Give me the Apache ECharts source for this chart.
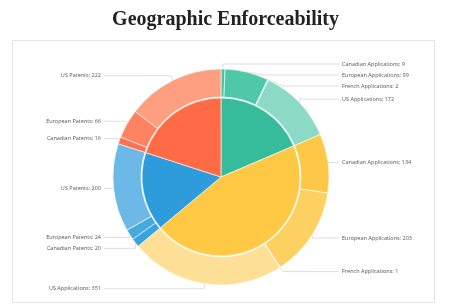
<!DOCTYPE html>
<html>
<head>
<meta charset="utf-8">
<script src="https://cdn.jsdelivr.net/npm/echarts@6/dist/echarts.min.js"></script>
<style>
html,body{margin:0;padding:0;background:#fff;}
#chart{width:451px;height:308px;}
</style>
</head>
<body>
<div id="chart"></div>
<script>
// Inner ring groups (no visible labels in the reference)
var groupNames = ['Applications A', 'Applications B', 'Patents A', 'Patents B'];
var groupColors = ['#37bc9b', '#ffc845', '#2e9bdb', '#ff6b45'];

// Outer ring, per group (clockwise from 12 o'clock)
var outerNamesA = ['Canadian Applications', 'European Applications', 'French Applications', 'US Applications'];
var outerValuesA = [9, 99, 2, 172];
var outerColorsA = ['#48c4a5', '#4fc7a9', '#74d3bc', '#8cd9c6'];

var outerNamesB = ['Canadian Applications', 'European Applications', 'French Applications', 'US Applications'];
var outerValuesB = [134, 203, 1, 351];
var outerColorsB = ['#fdc748', '#fdd062', '#fdd878', '#fedf96'];

var outerNamesC = ['Canadian Patents', 'European Patents', 'US Patents'];
var outerValuesC = [20, 24, 200];
var outerColorsC = ['#3aa3de', '#46aae1', '#6cb8e6'];

var outerNamesD = ['Canadian Patents', 'European Patents', 'US Patents'];
var outerValuesD = [16, 66, 222];
var outerColorsD = ['#fe7250', '#fe8362', '#fe9f81'];

function sum(a){ return a.reduce(function(s,v){return s+v;},0); }

var innerData = [outerValuesA, outerValuesB, outerValuesC, outerValuesD].map(function(vals, i){
  return {name: groupNames[i], value: sum(vals), itemStyle: {color: groupColors[i]}};
});

var outerData = [];
[[outerNamesA, outerValuesA, outerColorsA],
 [outerNamesB, outerValuesB, outerColorsB],
 [outerNamesC, outerValuesC, outerColorsC],
 [outerNamesD, outerValuesD, outerColorsD]].forEach(function(g){
  g[1].forEach(function(v, j){
    outerData.push({name: g[0][j], value: v, itemStyle: {color: g[2][j]}});
  });
});

var CX = 221, CY = 177;
var LEFT_TEXT_END = 101, RIGHT_TEXT_START = 342;

var chart = echarts.init(document.getElementById('chart'), null, {renderer: 'canvas'});
chart.setOption({
  animation: false,
  title: {
    text: 'Geographic Enforceability',
    left: 'center',
    top: 5,
    textStyle: {fontFamily: 'Liberation Serif', fontWeight: 'bold', fontSize: 20, color: '#222'}
  },
  graphic: [{
    type: 'rect',
    shape: {x: 12.5, y: 40.5, width: 422, height: 262},
    style: {fill: 'none', stroke: '#e4e4e4', lineWidth: 1},
    z: -10
  }],
  series: [
    {
      type: 'pie',
      center: [CX, CY],
      radius: [0, 79],
      startAngle: 90,
      silent: true,
      label: {show: false},
      labelLine: {show: false},
      itemStyle: {borderColor: 'rgba(255,255,255,0.6)', borderWidth: 1},
      data: innerData
    },
    {
      type: 'pie',
      center: [CX, CY],
      radius: [80, 108],
      startAngle: 90,
      silent: true,
      avoidLabelOverlap: true,
      itemStyle: {borderColor: 'rgba(255,255,255,0.6)', borderWidth: 1},
      label: {
        show: true,
        position: 'outside',
        formatter: '{b}: {c}',
        fontFamily: 'Open Sans',
        fontSize: 5.5,
        lineHeight: 9,
        color: '#555'
      },
      labelLine: {
        show: true,
        length: 5,
        length2: 4,
        lineStyle: {color: '#d6d6d6', width: 0.8}
      },
      labelLayout: function (params) {
        var isLeft = params.labelRect.x + params.labelRect.width / 2 < CX;
        var pts = params.labelLinePoints;
        var out = {
          x: isLeft ? LEFT_TEXT_END : RIGHT_TEXT_START,
          align: isLeft ? 'right' : 'left'
        };
        if (pts) {
          pts[2][0] = isLeft ? LEFT_TEXT_END + 3 : RIGHT_TEXT_START - 3;
          out.labelLinePoints = pts;
        }
        return out;
      },
      data: outerData
    }
  ]
});
</script>
</body>
</html>
